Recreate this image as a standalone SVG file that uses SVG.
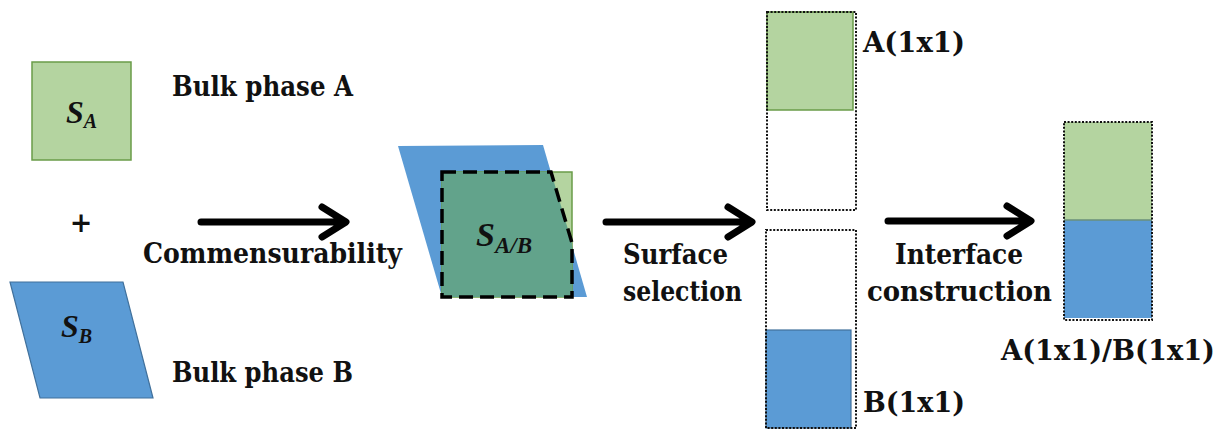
<svg xmlns="http://www.w3.org/2000/svg" width="1232" height="432" viewBox="0 0 1232 432">
<style>
.lbl{font-family:"DejaVu Serif","Liberation Serif",serif;font-weight:bold;font-size:27px;fill:#111;}
.math{font-family:"Liberation Serif","DejaVu Serif",serif;font-weight:bold;font-style:italic;fill:#111;}
.green{fill:#b4d4a0;stroke:#6a9c48;stroke-width:1.5;}
.blue{fill:#5b9bd5;stroke:#41719c;stroke-width:1.2;}
.dotted{fill:none;stroke:#111;stroke-width:2;stroke-dasharray:2 1.6;}
.arrow{fill:none;stroke:#000;stroke-width:7;stroke-linecap:round;stroke-linejoin:round;}
</style>
<rect width="1232" height="432" fill="#fff"/>
<g id="bulkA">
<rect class="green" x="32" y="62" width="99" height="98"/>
<text class="math" x="66" y="123" font-size="32">S<tspan font-size="20" dy="5">A</tspan></text>
<text class="lbl" x="172" y="96" textLength="181" lengthAdjust="spacingAndGlyphs">Bulk phase A</text>
</g>
<g id="plus"><text class="lbl" x="81" y="232" text-anchor="middle">+</text></g>
<g id="bulkB">
<polygon class="blue" points="10,282 123,282 153,398 40,398"/>
<text class="math" x="61" y="337" font-size="32">S<tspan font-size="20" dy="6">B</tspan></text>
<text class="lbl" x="172" y="382" textLength="181" lengthAdjust="spacingAndGlyphs">Bulk phase B</text>
</g>
<g id="commensurate">
<polygon points="398,146 543,145 587,297 442,297" fill="#5b9bd5"/>
<rect class="green" x="442" y="172" width="130" height="125"/>
<polygon points="442,172 551,172 572,243 572,297 442,297" fill="#62a38b" stroke="#000" stroke-width="3.5" stroke-dasharray="14 7"/>
<text class="math" x="476" y="246" font-size="34">S<tspan font-size="23" dy="7">A/B</tspan></text>
</g>
<g id="surfaceA">
<rect class="green" x="767" y="12" width="86" height="98"/>
<rect class="dotted" x="767" y="12" width="89" height="198"/>
<text class="lbl" x="863" y="52" textLength="102" lengthAdjust="spacingAndGlyphs">A(1x1)</text>
</g>
<g id="surfaceB">
<rect class="blue" x="766" y="330" width="85" height="98"/>
<rect class="dotted" x="766" y="230" width="90" height="198"/>
<text class="lbl" x="863" y="412" textLength="102" lengthAdjust="spacingAndGlyphs">B(1x1)</text>
</g>
<g id="interface">
<rect x="1064" y="122" width="88" height="98" fill="#b4d4a0"/>
<rect x="1064" y="220" width="88" height="98" fill="#5b9bd5"/>
<line x1="1064" y1="220" x2="1152" y2="220" stroke="#6a8f7a" stroke-width="1.5"/>
<rect class="dotted" x="1064" y="122" width="88" height="198"/>
<text class="lbl" x="1001" y="360" textLength="214" lengthAdjust="spacingAndGlyphs">A(1x1)/B(1x1)</text>
</g>
<g id="connectors">
<path class="arrow" d="M201,222 H345 M322,207 L346,222 L322,237"/>
<text class="lbl" x="143" y="263" textLength="259" lengthAdjust="spacingAndGlyphs">Commensurability</text>
<path class="arrow" d="M606,222 H750 M728,207 L752,222 L728,237"/>
<text class="lbl" x="623" y="264" textLength="105" lengthAdjust="spacingAndGlyphs">Surface</text>
<text class="lbl" x="623" y="301" textLength="119" lengthAdjust="spacingAndGlyphs">selection</text>
<path class="arrow" d="M888,221 H1028 M1007,206 L1031,221 L1007,236"/>
<text class="lbl" x="895" y="264" textLength="128" lengthAdjust="spacingAndGlyphs">Interface</text>
<text class="lbl" x="867" y="301" textLength="185" lengthAdjust="spacingAndGlyphs">construction</text>
</g>
</svg>
